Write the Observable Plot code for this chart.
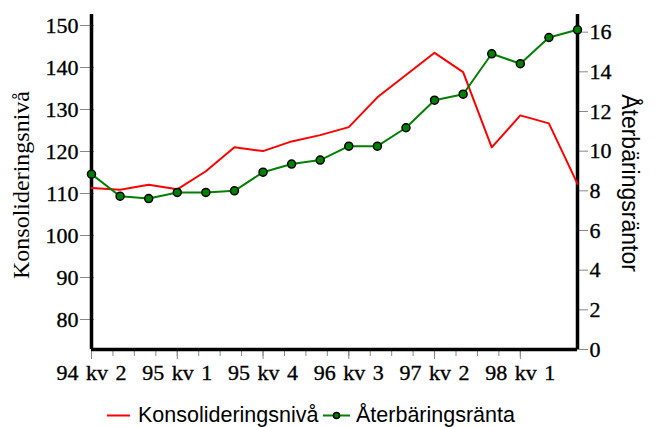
<!DOCTYPE html>
<html><head><meta charset="utf-8">
<script src="https://cdn.jsdelivr.net/npm/d3@7"></script>
<script src="https://cdn.jsdelivr.net/npm/@observablehq/plot@0.6"></script>
<style>
body{margin:0;background:#fff;}
#chart{width:658px;height:427px;overflow:hidden;background:#fff;}
#chart svg{display:block;}
</style></head><body><div id="chart"></div>
<script>
const quarters = ["94 kv 2","94 kv 3","94 kv 4","95 kv 1","95 kv 2","95 kv 3","95 kv 4","96 kv 1","96 kv 2","96 kv 3","96 kv 4","97 kv 1","97 kv 2","97 kv 3","97 kv 4","98 kv 1","98 kv 2","98 kv 3"];
const konsolidering = [111.3,110.9,112.1,111.0,115.3,121.0,120.1,122.4,123.9,125.8,132.9,138.2,143.5,138.9,121.0,128.6,126.7,112.3];
const aterbaring = [8.84,7.73,7.61,7.92,7.92,8.0,8.94,9.35,9.55,10.25,10.25,11.18,12.57,12.87,14.91,14.41,15.73,16.12];
const leftTicks = [80,90,100,110,120,130,140,150];
const rightTicks = [0,2,4,6,8,10,12,14,16];
const seriesNames = ["Konsolideringsnivå","Återbäringsränta"];
const axisTitles = ["Konsolideringsnivå","Återbäringsräntor"];
const seriesColors = ["#ff0000","#008000"];

const leftDomain = [72.86, 152.62];
const rightDomain = [0, 16.89];
const k = (leftDomain[1]-leftDomain[0])/(rightDomain[1]-rightDomain[0]);
const toLeft = v => leftDomain[0] + (v - rightDomain[0])*k;
const fromLeft = v => rightDomain[0] + (v - leftDomain[0])/k;

const data = quarters.map((q,i)=>({i, q, kons: konsolidering[i], ater: toLeft(aterbaring[i])}));
const majorIdx = d3.range(0, quarters.length, 3);
const minorIdx = d3.range(0, majorIdx[majorIdx.length-1] + 0.001, 0.75);

const plot = Plot.plot({
  width: 658, height: 400,
  marginLeft: 91, marginRight: 81, marginTop: 14, marginBottom: 51,
  style: {fontFamily: "'Liberation Serif', serif", fontSize: "22px", color: "#000", background: "white", overflow: "visible"},
  x: {domain: [0, quarters.length-1], axis: null},
  y: {domain: leftDomain, axis: null},
  marks: [
    Plot.axisY(leftTicks, {anchor:"left", tickSize: 14, tickPadding: 2, dx: 3, stroke: "#888", label: null, fontSize: 22}),
    Plot.axisY(rightTicks.map(toLeft), {anchor:"right", tickSize: 12, tickPadding: 2, dx: -2, tickFormat: d => Math.round(fromLeft(d)), stroke: "#888", label: null, fontSize: 22}),
    Plot.axisX(minorIdx, {anchor:"bottom", tickSize: 7, tickFormat: () => "", stroke: "#888", label: null}),
    Plot.axisX(majorIdx, {anchor:"bottom", tickSize: 10, tickPadding: 5, tickFormat: i => quarters[i], stroke: "#888", label: null, fontSize: 22}),
    Plot.ruleX([0, quarters.length-1], {stroke: "#000", strokeWidth: 3.5}),
    Plot.ruleY([leftDomain[0]], {stroke: "#000", strokeWidth: 3.5}),
    Plot.line(data, {x: "i", y: "kons", stroke: seriesColors[0], strokeWidth: 2}),
    Plot.line(data, {x: "i", y: "ater", stroke: seriesColors[1], strokeWidth: 2}),
    Plot.dot(data, {x: "i", y: "ater", r: 4, fill: seriesColors[1], stroke: "#000", strokeWidth: 1.5}),
    Plot.text([axisTitles[0]], {frameAnchor: "left", textAnchor: "middle", dx: -70, dy: 3, rotate: -90, fontFamily: "'Liberation Serif', serif", fontSize: 24}),
    Plot.text([axisTitles[1]], {frameAnchor: "right", textAnchor: "middle", dx: 52, dy: 1, rotate: 90, fontFamily: "'Liberation Sans', sans-serif", fontSize: 23})
  ]
});
d3.select(plot).selectAll("text").style("word-spacing", "2px");
d3.select(plot).selectAll('g[aria-label$="tick label"] text').style("stroke", "#000").style("stroke-width", "0.35px");
document.getElementById("chart").appendChild(plot);

// legend below
const leg = d3.create("svg").attr("width", 658).attr("height", 27)
  .style("font-family", "'Liberation Sans', Arial, sans-serif").style("font-size", "21.5px");
const items = [
  {name: seriesNames[0], color: seriesColors[0], x0: 107, x1: 130, tx: 138, dot: false},
  {name: seriesNames[1], color: seriesColors[1], x0: 323, x1: 350, tx: 356, dot: true}
];
for (const it of items) {
  leg.append("line").attr("x1", it.x0).attr("x2", it.x1).attr("y1", 15.5).attr("y2", 15.5)
    .attr("stroke", it.color).attr("stroke-width", 2);
  if (it.dot) leg.append("circle").attr("cx", (it.x0+it.x1)/2).attr("cy", 15.5).attr("r", 3)
    .attr("fill", it.color).attr("stroke", "#000").attr("stroke-width", 1.5);
  leg.append("text").attr("x", it.tx).attr("y", 22).attr("fill", "#000").text(it.name);
}
document.getElementById("chart").appendChild(leg.node());
</script></body></html>
